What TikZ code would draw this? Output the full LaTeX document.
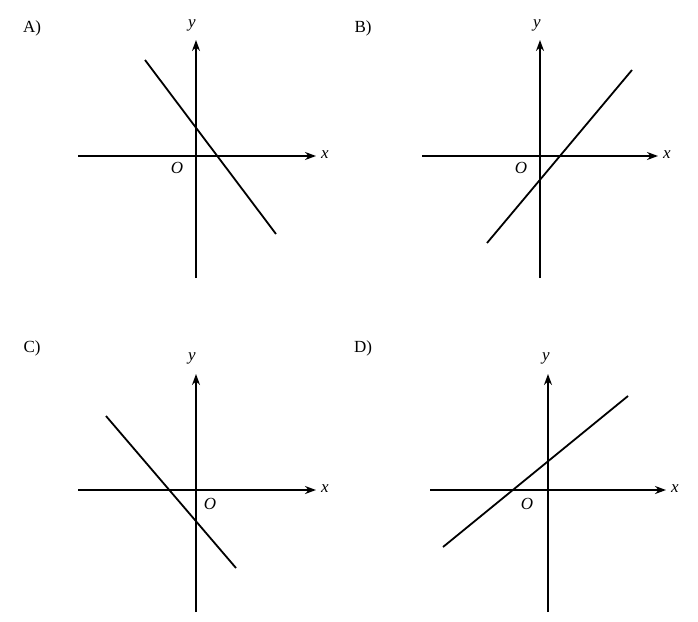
\documentclass[tikz,border=0pt]{standalone}
\usepackage{fontspec}
\setmainfont{Liberation Serif}
\usetikzlibrary{arrows.meta}
\begin{document}
\begin{tikzpicture}[x=1pt,y=-1pt,
  ax/.style={line width=1.8pt,-{Stealth[length=11pt,width=8pt]}},
  ln/.style={line width=1.8pt},
  lab/.style={font=\fontsize{17}{17}\selectfont\itshape,inner sep=0pt},
  tag/.style={font=\fontsize{17}{17}\selectfont,inner sep=0pt}]
\useasboundingbox (0,0) rectangle (698,621);
% A
\node[tag] (ta) at (32,28) {A)};
\coordinate (ax0) at (78,156); \coordinate (ax1) at (316,156);
\coordinate (ay0) at (196,278); \coordinate (ay1) at (196,40);
\draw[ax] (ax0) -- (ax1); \draw[ax] (ay0) -- (ay1);
\coordinate (al0) at (145,60); \coordinate (al1) at (276,234);
\draw[ln] (al0) -- (al1);
\node[lab] (axl) at (325,155) {x}; \node[lab] (ayl) at (192,25) {y}; \node[lab] (ao) at (177,168) {O};
% B
\node[tag] (tb) at (363,28) {B)};
\coordinate (bx0) at (422,156); \coordinate (bx1) at (658,156);
\coordinate (by0) at (540,278); \coordinate (by1) at (540,40);
\draw[ax] (bx0) -- (bx1); \draw[ax] (by0) -- (by1);
\coordinate (bl0) at (487,243); \coordinate (bl1) at (632,70);
\draw[ln] (bl0) -- (bl1);
\node[lab] (bxl) at (667,155) {x}; \node[lab] (byl) at (537,25) {y}; \node[lab] (bo) at (521,168) {O};
% C
\node[tag] (tc) at (32,348) {C)};
\coordinate (cx0) at (78,490); \coordinate (cx1) at (316,490);
\coordinate (cy0) at (196,612); \coordinate (cy1) at (196,374);
\draw[ax] (cx0) -- (cx1); \draw[ax] (cy0) -- (cy1);
\coordinate (cl0) at (106,416); \coordinate (cl1) at (236,568);
\draw[ln] (cl0) -- (cl1);
\node[lab] (cxl) at (325,489) {x}; \node[lab] (cyl) at (192,358) {y}; \node[lab] (co) at (210,504) {O};
% D
\node[tag] (td) at (363,348) {D)};
\coordinate (dx0) at (430,490); \coordinate (dx1) at (666,490);
\coordinate (dy0) at (548,612); \coordinate (dy1) at (548,374);
\draw[ax] (dx0) -- (dx1); \draw[ax] (dy0) -- (dy1);
\coordinate (dl0) at (443,547); \coordinate (dl1) at (628,396);
\draw[ln] (dl0) -- (dl1);
\node[lab] (dxl) at (675,489) {x}; \node[lab] (dyl) at (546,358) {y}; \node[lab] (do) at (527,504) {O};
\end{tikzpicture}
\end{document}
